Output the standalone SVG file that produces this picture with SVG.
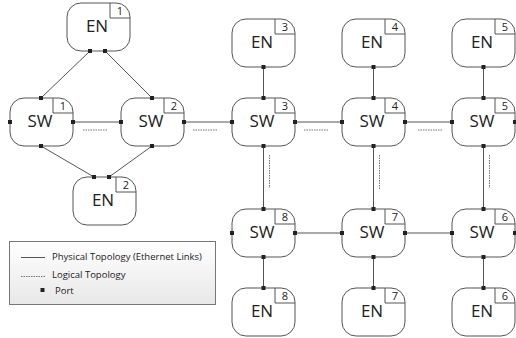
<svg xmlns="http://www.w3.org/2000/svg" width="516" height="338" viewBox="0 0 516 338">
<defs>
<linearGradient id="lg" x1="0" y1="0" x2="0" y2="1">
<stop offset="0" stop-color="#ffffff"/>
<stop offset="1" stop-color="#e8e8e8"/>
</linearGradient>
<symbol id="box" overflow="visible">
<rect x="0" y="0" width="63" height="48" rx="14" ry="14" fill="#fff" stroke="#555" stroke-width="1"/>
<path d="M43,0 V15 H63" fill="none" stroke="#555" stroke-width="1"/>
</symbol>
</defs>
<style>
.ln{stroke:#555;stroke-width:1;fill:none}
.dl{stroke:#777;stroke-width:1;stroke-dasharray:1.5,1;fill:none}
.pt{fill:#222}
.big{font-family:"Open Sans","Noto Sans",sans-serif;font-size:17px;fill:#222;text-anchor:middle}
.num{font-family:"Open Sans","Noto Sans",sans-serif;font-size:11px;fill:#222;text-anchor:middle}
.lg{font-family:"Open Sans","Noto Sans",sans-serif;font-size:9.5px;fill:#222}
</style>
<rect width="516" height="338" fill="#fff"/>
<g id="connectors">
<line class="ln" x1="90" y1="51" x2="41" y2="98"/>
<line class="ln" x1="105" y1="51" x2="152" y2="98"/>
<line class="ln" x1="41" y1="146" x2="94" y2="177"/>
<line class="ln" x1="152" y1="146" x2="109" y2="177"/>
<line class="ln" x1="73" y1="122" x2="121" y2="122"/>
<line class="ln" x1="184" y1="122" x2="232" y2="122"/>
<line class="ln" x1="295" y1="122" x2="342" y2="122"/>
<line class="ln" x1="405" y1="122" x2="452" y2="122"/>
<line class="dl" x1="83" y1="130" x2="107" y2="130"/>
<line class="dl" x1="193" y1="130" x2="217" y2="130"/>
<line class="dl" x1="304" y1="130" x2="328" y2="130"/>
<line class="dl" x1="418" y1="130" x2="442" y2="130"/>
<line class="ln" x1="263.5" y1="67" x2="263.5" y2="98"/>
<line class="ln" x1="373.5" y1="67" x2="373.5" y2="98"/>
<line class="ln" x1="483.5" y1="67" x2="483.5" y2="98"/>
<line class="ln" x1="263.5" y1="146" x2="263.5" y2="209"/>
<line class="ln" x1="373.5" y1="146" x2="373.5" y2="209"/>
<line class="ln" x1="483.5" y1="146" x2="483.5" y2="209"/>
<line class="dl" x1="269.5" y1="155" x2="269.5" y2="188"/>
<line class="dl" x1="379.5" y1="155" x2="379.5" y2="189"/>
<line class="dl" x1="489.5" y1="155" x2="489.5" y2="188"/>
<line class="ln" x1="295" y1="233" x2="342" y2="233"/>
<line class="ln" x1="405" y1="233" x2="452" y2="233"/>
<line class="ln" x1="263.5" y1="257" x2="263.5" y2="288"/>
<line class="ln" x1="373.5" y1="257" x2="373.5" y2="288"/>
<line class="ln" x1="483.5" y1="257" x2="483.5" y2="288"/>
</g>
<g id="en1" transform="translate(67,3)">
<use href="#box"/>
<text class="big" x="30" y="29">EN</text><text class="num" x="53" y="12">1</text>
<rect class="pt" x="21" y="46" width="4" height="4"/><rect class="pt" x="36" y="46" width="4" height="4"/>
</g>
<g id="en2" transform="translate(73,177)">
<use href="#box"/>
<text class="big" x="30" y="29">EN</text><text class="num" x="53" y="12">2</text>
<rect class="pt" x="19" y="-2" width="4" height="4"/><rect class="pt" x="34" y="-2" width="4" height="4"/>
</g>
<g id="sw1" transform="translate(10,98)">
<use href="#box"/>
<text class="big" x="30" y="29">SW</text><text class="num" x="53" y="12">1</text>
<rect class="pt" x="29" y="-2" width="4" height="4"/><rect class="pt" x="29" y="46" width="4" height="4"/>
<rect class="pt" x="-2" y="22" width="4" height="4"/><rect class="pt" x="61" y="22" width="4" height="4"/>
</g>
<g id="sw2" transform="translate(121,98)">
<use href="#box"/>
<text class="big" x="30" y="29">SW</text><text class="num" x="53" y="12">2</text>
<rect class="pt" x="29" y="-2" width="4" height="4"/><rect class="pt" x="29" y="46" width="4" height="4"/>
<rect class="pt" x="-2" y="22" width="4" height="4"/><rect class="pt" x="61" y="22" width="4" height="4"/>
</g>
<g id="sw3" transform="translate(232,98)">
<use href="#box"/>
<text class="big" x="30" y="29">SW</text><text class="num" x="53" y="12">3</text>
<rect class="pt" x="29.5" y="-2" width="4" height="4"/><rect class="pt" x="29.5" y="46" width="4" height="4"/>
<rect class="pt" x="-2" y="22" width="4" height="4"/><rect class="pt" x="61" y="22" width="4" height="4"/>
</g>
<g id="sw4" transform="translate(342,98)">
<use href="#box"/>
<text class="big" x="30" y="29">SW</text><text class="num" x="53" y="12">4</text>
<rect class="pt" x="29.5" y="-2" width="4" height="4"/><rect class="pt" x="29.5" y="46" width="4" height="4"/>
<rect class="pt" x="-2" y="22" width="4" height="4"/><rect class="pt" x="61" y="22" width="4" height="4"/>
</g>
<g id="sw5" transform="translate(452,98)">
<use href="#box"/>
<text class="big" x="30" y="29">SW</text><text class="num" x="53" y="12">5</text>
<rect class="pt" x="29.5" y="-2" width="4" height="4"/><rect class="pt" x="29.5" y="46" width="4" height="4"/>
<rect class="pt" x="-2" y="22" width="4" height="4"/><rect class="pt" x="61" y="22" width="4" height="4"/>
</g>
<g id="sw8" transform="translate(232,209)">
<use href="#box"/>
<text class="big" x="30" y="29">SW</text><text class="num" x="53" y="12">8</text>
<rect class="pt" x="29.5" y="-2" width="4" height="4"/><rect class="pt" x="29.5" y="46" width="4" height="4"/>
<rect class="pt" x="-2" y="22" width="4" height="4"/><rect class="pt" x="61" y="22" width="4" height="4"/>
</g>
<g id="sw7" transform="translate(342,209)">
<use href="#box"/>
<text class="big" x="30" y="29">SW</text><text class="num" x="53" y="12">7</text>
<rect class="pt" x="29.5" y="-2" width="4" height="4"/><rect class="pt" x="29.5" y="46" width="4" height="4"/>
<rect class="pt" x="-2" y="22" width="4" height="4"/><rect class="pt" x="61" y="22" width="4" height="4"/>
</g>
<g id="sw6" transform="translate(452,209)">
<use href="#box"/>
<text class="big" x="30" y="29">SW</text><text class="num" x="53" y="12">6</text>
<rect class="pt" x="29.5" y="-2" width="4" height="4"/><rect class="pt" x="29.5" y="46" width="4" height="4"/>
<rect class="pt" x="-2" y="22" width="4" height="4"/><rect class="pt" x="61" y="22" width="4" height="4"/>
</g>
<g id="en3" transform="translate(232,19)">
<use href="#box"/>
<text class="big" x="30" y="29">EN</text><text class="num" x="53" y="12">3</text>
<rect class="pt" x="29.5" y="46" width="4" height="4"/>
</g>
<g id="en4" transform="translate(342,19)">
<use href="#box"/>
<text class="big" x="30" y="29">EN</text><text class="num" x="53" y="12">4</text>
<rect class="pt" x="29.5" y="46" width="4" height="4"/>
</g>
<g id="en5" transform="translate(452,19)">
<use href="#box"/>
<text class="big" x="30" y="29">EN</text><text class="num" x="53" y="12">5</text>
<rect class="pt" x="29.5" y="46" width="4" height="4"/>
</g>
<g id="en8" transform="translate(232,288)">
<use href="#box"/>
<text class="big" x="30" y="29">EN</text><text class="num" x="53" y="12">8</text>
<rect class="pt" x="29.5" y="-2" width="4" height="4"/>
</g>
<g id="en7" transform="translate(342,288)">
<use href="#box"/>
<text class="big" x="30" y="29">EN</text><text class="num" x="53" y="12">7</text>
<rect class="pt" x="29.5" y="-2" width="4" height="4"/>
</g>
<g id="en6" transform="translate(452,288)">
<use href="#box"/>
<text class="big" x="30" y="29">EN</text><text class="num" x="53" y="12">6</text>
<rect class="pt" x="29.5" y="-2" width="4" height="4"/>
</g>
<g id="legend">
<rect x="9.5" y="241.5" width="206" height="63" fill="url(#lg)" stroke="#777" stroke-width="1"/>
<line class="ln" x1="21" y1="257.5" x2="45" y2="257.5"/>
<text class="lg" x="52" y="260">Physical Topology (Ethernet Links)</text>
<line class="dl" x1="21" y1="276.5" x2="45" y2="276.5"/>
<text class="lg" x="52" y="278">Logical Topology</text>
<rect class="pt" x="40.5" y="288" width="4" height="4"/>
<text class="lg" x="55" y="294">Port</text>
</g>
</svg>
